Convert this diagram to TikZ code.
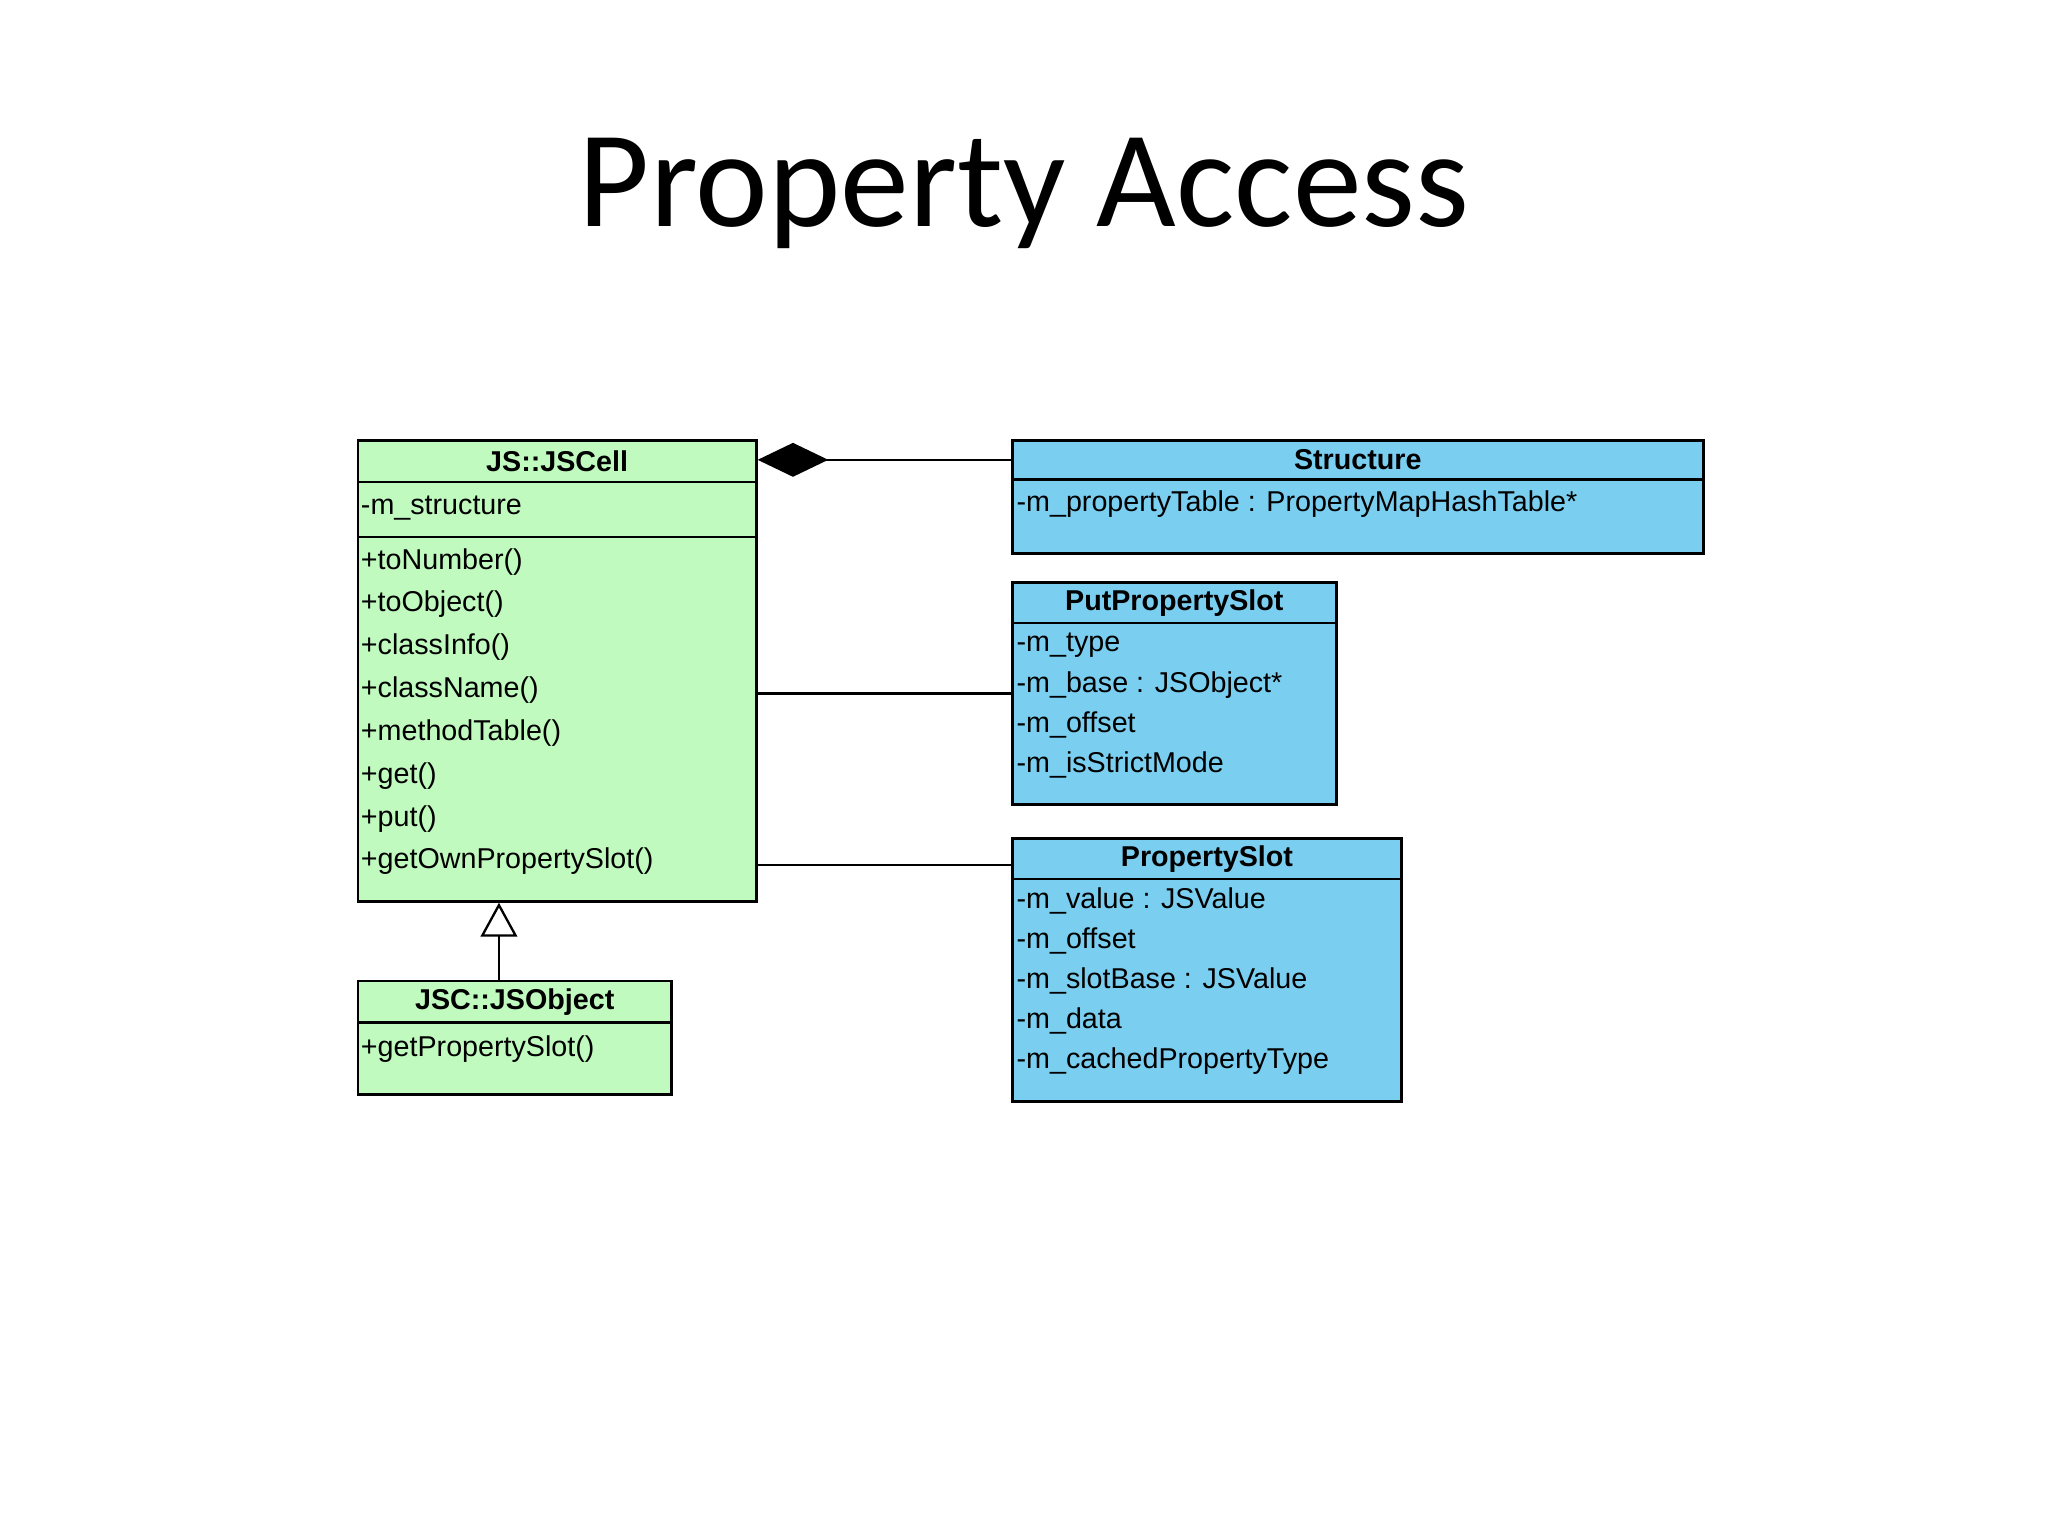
\documentclass[tikz,border=0pt]{standalone}
\usepackage{fontspec}
\setmainfont{Carlito}
\newfontfamily\uml{Liberation Sans}
\usetikzlibrary{arrows.meta}
\definecolor{cgreen}{RGB}{192,250,190}
\definecolor{cblue}{RGB}{122,206,240}
\begin{document}
\begin{tikzpicture}[x=0.02cm,y=0.02cm,
  comp/.style={draw,line width=1.2pt,anchor=north west,inner sep=0pt},
  hd/.style={font=\uml\fontsize{12.5}{14}\selectfont\bfseries},
  it/.style={anchor=west,inner sep=0pt,font=\uml\fontsize{12.5}{14}\selectfont},
  conn/.style={line width=1pt}]
\useasboundingbox (0,0) rectangle (1568,-1176);
\node[font=\fontsize{60}{70}\selectfont] (title) at (784,-148) {Property Access};
% JSCell
\node[comp,fill=cgreen,minimum width=305*0.02cm,minimum height=32*0.02cm] (cellH) at (273,-336) {};
\node[hd] at (cellH) {JS::JSCell};
\node[comp,fill=cgreen,minimum width=305*0.02cm,minimum height=42*0.02cm] (cellA) at (273,-368) {};
\node[comp,fill=cgreen,minimum width=305*0.02cm,minimum height=279*0.02cm] (cellM) at (273,-410) {};
\node[it] at (276,-389) {-m\_structure};
\foreach \t [count=\i from 0] in {+toNumber(),+toObject(),+classInfo(),+className(),+methodTable(),+get(),+put(),+getOwnPropertySlot()}
  \node[it] at (276,-430-\i*32.8) {\t};
% JSObject
\node[comp,fill=cgreen,minimum width=240*0.02cm,minimum height=32*0.02cm] (objH) at (273,-750) {};
\node[hd] at (objH) {JSC::JSObject};
\node[comp,fill=cgreen,minimum width=240*0.02cm,minimum height=55*0.02cm] (objM) at (273,-782) {};
\node[it] at (276,-803) {+getPropertySlot()};
% Structure
\node[comp,fill=cblue,minimum width=529*0.02cm,minimum height=30*0.02cm] (stH) at (774,-336) {};
\node[hd] at (stH) {Structure};
\node[comp,fill=cblue,minimum width=529*0.02cm,minimum height=57*0.02cm] (stA) at (774,-366) {};
\node[it] at (778,-386) {-m\_propertyTable : PropertyMapHashTable*};
% PutPropertySlot
\node[comp,fill=cblue,minimum width=248*0.02cm,minimum height=31*0.02cm] (putH) at (774,-445) {};
\node[hd] at (putH) {PutPropertySlot};
\node[comp,fill=cblue,minimum width=248*0.02cm,minimum height=139*0.02cm] (putA) at (774,-476) {};
\foreach \t [count=\i from 0] in {-m\_type,-m\_base : JSObject*,-m\_offset,-m\_isStrictMode}
  \node[it] at (778,-494-\i*30.5) {\t};
% PropertySlot
\node[comp,fill=cblue,minimum width=298*0.02cm,minimum height=31*0.02cm] (psH) at (774,-641) {};
\node[hd] at (psH) {PropertySlot};
\node[comp,fill=cblue,minimum width=298*0.02cm,minimum height=170*0.02cm] (psA) at (774,-672) {};
\foreach \t [count=\i from 0] in {-m\_value : JSValue,-m\_offset,-m\_slotBase : JSValue,-m\_data,-m\_cachedPropertyType}
  \node[it] at (778,-690-\i*30.5) {\t};
% connectors
\draw[conn,-{Diamond[length=54*0.02cm,width=26*0.02cm,fill=black]}] (stH.west) -- (cellH.east |- stH.west);
\draw[conn] (cellM.east |- 0,-531) -- (putA.west |- 0,-531);
\draw[conn] (cellM.east |- 0,-662) -- (psA.west |- 0,-662);
\draw[conn,-{Triangle[open,length=26*0.02cm,width=28*0.02cm,fill=white]}] (objH.north west -| 382,0) -- (cellM.south west -| 382,0);
\end{tikzpicture}
\end{document}
